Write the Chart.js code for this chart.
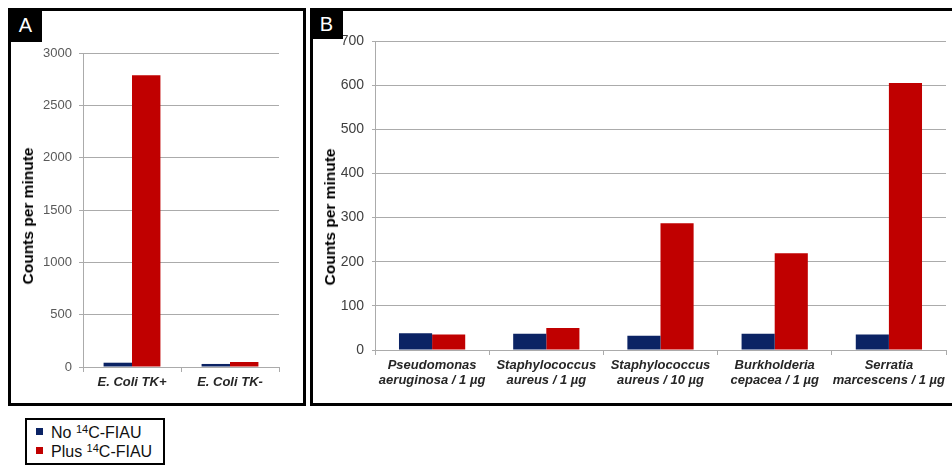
<!DOCTYPE html>
<html>
<head>
<meta charset="utf-8">
<script src="https://cdn.jsdelivr.net/npm/chart.js"></script>
<style>
    body { margin: 0; background: #fff; font-family: 'Liberation Sans', Arial, sans-serif; }
    .page { position: relative; width: 952px; height: 468px; overflow: hidden; }
    .panel { position: absolute; box-sizing: border-box; border: 3px solid #000; }
    .tag { position: absolute; background: #000; color: #fff; font-size: 20px; text-align: center; }
    .ytitle { position: absolute; font-size: 15.5px; font-weight: bold; color: #000; white-space: nowrap;
              transform: translate(-50%, -50%) rotate(-90deg); }
    canvas { position: absolute; }
    .legend { position: absolute; left: 25px; top: 418px; width: 140px; height: 47px; box-sizing: border-box;
              border: 2px solid #000; font-size: 16px; color: #111; }
    .legend div { position: absolute; left: 24px; white-space: nowrap; }
    .legend span.sw { position: absolute; left: -15px; top: 5px; width: 7px; height: 7px; }
    sup { font-size: 11px; vertical-align: 5px; }
</style>
</head>
<body>
<div class="page">
    <div class="panel" style="left:8px; top:8px; width:298px; height:398px;"></div>
    <div class="panel" style="left:310px; top:8px; width:700px; height:398px;"></div>
    <canvas id="chartA" width="292" height="392" style="left:11px; top:11px;"></canvas>
    <canvas id="chartB" width="639" height="392" style="left:313px; top:11px;"></canvas>
    <div class="tag" style="left:9px; top:9px; width:33px; height:33px; line-height:33px;">A</div>
    <div class="tag" style="left:310px; top:9px; width:33px; height:30px; line-height:30px;">B</div>
    <div class="ytitle" style="left:28px; top:216px;">Counts per minute</div>
    <div class="ytitle" style="left:330px; top:217px;">Counts per minute</div>
    <div class="legend" id="legend"></div>
</div>

<script>
    // series + categories
    const seriesNames = ['No', 'Plus'];
    const seriesColors = ['#0b2364', '#c00000'];

    const catsA = ['E. Coli TK+', 'E. Coli TK-'];
    const noA = [41, 29];
    const plusA = [2788, 48];
    const ticksA = [0, 500, 1000, 1500, 2000, 2500, 3000];

    const catsB = [
        ['Pseudomonas', 'aeruginosa / 1 µg'],
        ['Staphylococcus', 'aureus / 1 µg'],
        ['Staphylococcus', 'aureus / 10 µg'],
        ['Burkholderia', 'cepacea / 1 µg'],
        ['Serratia', 'marcescens / 1 µg']
    ];
    const noB = [38, 37, 32, 37, 35];
    const plusB = [35, 50, 287, 219, 605];
    const ticksB = [0, 100, 200, 300, 400, 500, 600, 700];

    const gridGray = '#ababab';

    function makeChart(id, cats, no, plus, ticks, opt) {
        return new Chart(document.getElementById(id), {
            type: 'bar',
            data: {
                labels: cats,
                datasets: [
                    { label: seriesNames[0], data: no, backgroundColor: seriesColors[0] },
                    { label: seriesNames[1], data: plus, backgroundColor: seriesColors[1] }
                ]
            },
            options: {
                responsive: false,
                animation: false,
                layout: { padding: { top: opt.top, right: opt.right, left: 0, bottom: 0 } },
                plugins: { legend: { display: false }, tooltip: { enabled: false } },
                datasets: { bar: { categoryPercentage: 0.58, barPercentage: 1 } },
                scales: {
                    x: {
                        afterFit: s => { s.height = opt.xh; },
                        grid: { drawOnChartArea: false, color: gridGray, tickLength: 5 },
                        border: { color: gridGray },
                        ticks: { color: '#262626', padding: 3, maxRotation: 0, autoSkip: false,
                                 font: { family: "'Liberation Sans', Arial", size: 13, weight: 'bold', style: 'italic', lineHeight: 1.15 } }
                    },
                    y: {
                        min: 0, max: ticks[ticks.length - 1],
                        afterFit: s => { s.width = opt.yw; },
                        afterBuildTicks: s => { s.ticks = ticks.map(v => ({ value: v })); },
                        grid: { color: gridGray, tickLength: opt.tl },
                        border: { color: gridGray },
                        ticks: { color: opt.tickColor, padding: opt.pad, font: opt.tickFont,
                                 callback: v => String(v) }
                    }
                }
            }
        });
    }

    makeChart('chartA', catsA, noA, plusA, ticksA, {
        top: 42, right: 24, xh: 36, yw: 72, tl: 4, pad: 7,
        tickColor: '#595959', tickFont: { family: "'Liberation Sans', Arial", size: 13 }
    });

    makeChart('chartB', catsB, noB, plusB, ticksB, {
        top: 30, right: 6, xh: 53, yw: 62, tl: 3, pad: 8,
        tickColor: '#404040', tickFont: { family: "'Liberation Sans Narrow', 'Liberation Sans', Arial", size: 14 }
    });

    // legend
    const leg = document.getElementById('legend');
    seriesNames.forEach((n, i) => {
        const d = document.createElement('div');
        d.style.top = (3 + i * 19) + 'px';
        d.innerHTML = '<span class="sw" style="background:' + seriesColors[i] + '"></span>' + n + ' <sup>14</sup>C-FIAU';
        leg.appendChild(d);
    });
</script>
</body>
</html>
